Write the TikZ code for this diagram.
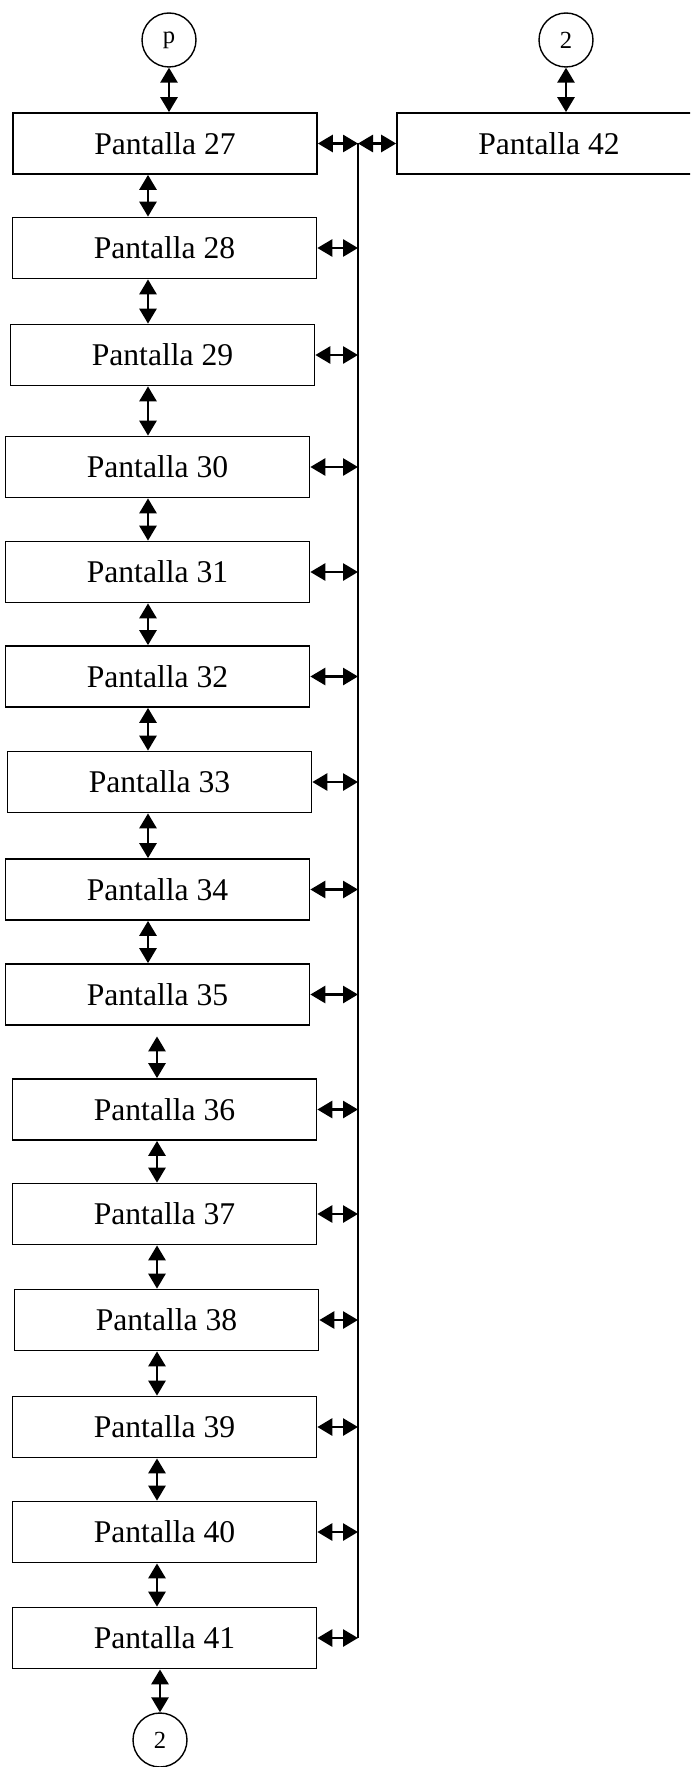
\documentclass[tikz,border=0pt]{standalone}
\usepackage{fontspec}
\setmainfont{Liberation Serif}
\usetikzlibrary{arrows.meta, calc}
\tikzset{
  screen/.style={
    rectangle, draw=black, line width=1pt, fill=white,
    minimum width=6.08cm, minimum height=1.22cm, inner sep=0pt,
    font=\fontsize{18}{22}\selectfont
  },
  jump/.style={
    circle, draw=black, line width=0.8pt, fill=white,
    minimum size=1.08cm, inner sep=0pt,
    font=\fontsize{14}{16}\selectfont
  },
  flow/.style={
    {Triangle[length=0.3cm,width=0.34cm]}-{Triangle[length=0.3cm,width=0.34cm]},
    line width=1.6pt
  },
  bus/.style={line width=1pt}
}

\begin{document}
\begin{tikzpicture}[x=0.02cm, y=-0.02cm]
\useasboundingbox (0,0) rectangle (690,1767);
\clip (0,0) rectangle (690,1767);

% Connectors
\node[jump] (p) at (169,40) {p};
\node[jump] (c2top) at (566,40) {2};
\node[jump] (c2bot) at (160,1740) {2};

% Screens column
\node[screen] (b27) at (165,143.5) {Pantalla 27};
\node[screen] (b28) at (164.5,248) {Pantalla 28};
\node[screen] (b29) at (162.5,355) {Pantalla 29};
\node[screen] (b30) at (157.5,467) {Pantalla 30};
\node[screen] (b31) at (157.5,572) {Pantalla 31};
\node[screen] (b32) at (157.5,676.5) {Pantalla 32};
\node[screen] (b33) at (159.5,782) {Pantalla 33};
\node[screen] (b34) at (157.5,889.5) {Pantalla 34};
\node[screen] (b35) at (157.5,994.5) {Pantalla 35};
\node[screen] (b36) at (164.5,1109.5) {Pantalla 36};
\node[screen] (b37) at (164.5,1214) {Pantalla 37};
\node[screen] (b38) at (166.5,1320) {Pantalla 38};
\node[screen] (b39) at (164.5,1427) {Pantalla 39};
\node[screen] (b40) at (164.5,1532) {Pantalla 40};
\node[screen] (b41) at (164.5,1638) {Pantalla 41};

% Screen on the right
\node[screen] (b42) at (549,143.5) {Pantalla 42};

% Columns of the vertical links and the bus
\coordinate (colA) at (148,0);
\coordinate (colB) at (157,0);
\coordinate (bustop) at (358,143.5);

% Vertical links
\draw[flow] (p.south) -- (p.south |- b27.north);
\draw[flow] (c2top.south) -- (c2top.south |- b42.north);
\draw[flow] (b27.south -| colA) -- (b28.north -| colA);
\draw[flow] (b28.south -| colA) -- (b29.north -| colA);
\draw[flow] (b29.south -| colA) -- (b30.north -| colA);
\draw[flow] (b30.south -| colA) -- (b31.north -| colA);
\draw[flow] (b31.south -| colA) -- (b32.north -| colA);
\draw[flow] (b32.south -| colA) -- (b33.north -| colA);
\draw[flow] (b33.south -| colA) -- (b34.north -| colA);
\draw[flow] (b34.south -| colA) -- (b35.north -| colA);
\draw[flow, shorten <=6pt] (b35.south -| colB) -- (b36.north -| colB);
\draw[flow] (b36.south -| colB) -- (b37.north -| colB);
\draw[flow] (b37.south -| colB) -- (b38.north -| colB);
\draw[flow] (b38.south -| colB) -- (b39.north -| colB);
\draw[flow] (b39.south -| colB) -- (b40.north -| colB);
\draw[flow] (b40.south -| colB) -- (b41.north -| colB);
\draw[flow] (b41.south -| c2bot.north) -- (c2bot.north);

% Bus on the right of the column
\draw[bus] (bustop) -- (b41.east -| bustop);
\draw[flow] (bustop) -- (b42.west);
\draw[flow] (b27.east) -- (bustop);
\draw[flow] (b28.east) -- (b28.east -| bustop);
\draw[flow] (b29.east) -- (b29.east -| bustop);
\draw[flow] (b30.east) -- (b30.east -| bustop);
\draw[flow] (b31.east) -- (b31.east -| bustop);
\draw[flow] (b32.east) -- (b32.east -| bustop);
\draw[flow] (b33.east) -- (b33.east -| bustop);
\draw[flow] (b34.east) -- (b34.east -| bustop);
\draw[flow] (b35.east) -- (b35.east -| bustop);
\draw[flow] (b36.east) -- (b36.east -| bustop);
\draw[flow] (b37.east) -- (b37.east -| bustop);
\draw[flow] (b38.east) -- (b38.east -| bustop);
\draw[flow] (b39.east) -- (b39.east -| bustop);
\draw[flow] (b40.east) -- (b40.east -| bustop);
\draw[flow] (b41.east) -- (b41.east -| bustop);

\end{tikzpicture}
\end{document}
